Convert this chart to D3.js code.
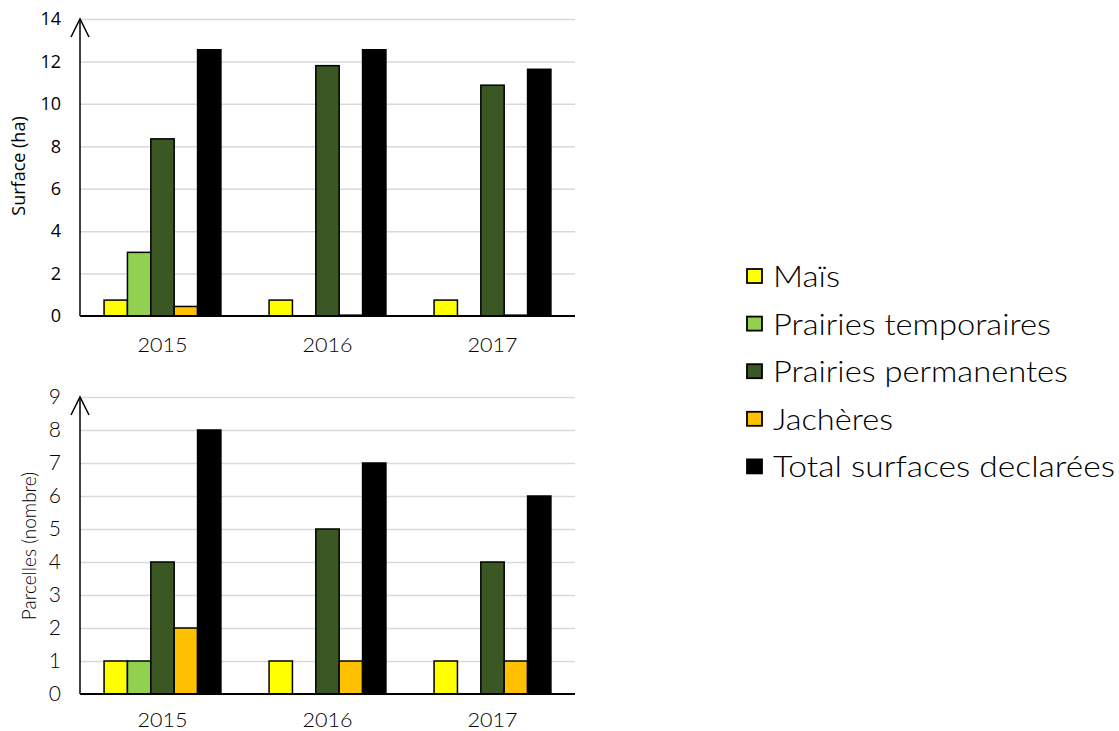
<html>
<head>
<meta charset="utf-8">
</head>
<style>
    body { margin: 0; background: #fff; }
    .grid line { stroke: #d9d9d9; stroke-width: 1.5; }
    .grid path { display: none; }
    .bar { stroke: #000; stroke-width: 1.5; }
</style>
<svg width="1119" height="731"></svg>
<script src="https://cdnjs.cloudflare.com/ajax/libs/d3/7.8.5/d3.min.js"></script>
<script>
    var years = ["2015", "2016", "2017"];
    var series = ["Maïs", "Prairies temporaires", "Prairies permanentes", "Jachères", "Total surfaces declarées"];
    var colors = ["#ffff00", "#92d050", "#3a5724", "#ffc000", "#000000"];

    // surface (ha), one array per series, by year
    var surfMais = [0.75, 0.75, 0.75];
    var surfTemp = [3.0, 0, 0];
    var surfPerm = [8.35, 11.8, 10.88];
    var surfJach = [0.45, 0.04, 0.04];
    var surfTotal = [12.55, 12.55, 11.63];
    var surfTicks = [0, 2, 4, 6, 8, 10, 12, 14];

    // parcelles (nombre)
    var parMais = [1, 1, 1];
    var parTemp = [1, 0, 0];
    var parPerm = [4, 5, 4];
    var parJach = [2, 1, 1];
    var parTotal = [8, 7, 6];
    var parTicks = [0, 1, 2, 3, 4, 5, 6, 7, 8, 9];

    var svg = d3.select("svg");
    var gothic = "Lato, 'DejaVu Sans', sans-serif";
    var calibri = "'Open Sans', sans-serif";

    function drawPanel(opt) {
        var data = [opt.a, opt.b, opt.c, opt.d, opt.e];
        var x0 = d3.scaleBand().domain(years).range([80, 575]);
        var x1 = d3.scaleBand().domain(d3.range(5)).range([0, x0.bandwidth()]).paddingOuter(1.03).paddingInner(0);
        var y = d3.scaleLinear().domain([0, opt.max]).range([opt.bottom, opt.top]);

        // gridlines
        svg.append("g").attr("class", "grid")
            .attr("transform", "translate(80,0)")
            .call(d3.axisRight(y).tickValues(opt.ticks).tickSize(495).tickFormat(""))
            .selectAll("line").filter(d => d === 0).remove();

        // tick labels
        svg.append("g").selectAll("text").data(opt.ticks).enter().append("text")
            .attr("x", 61).attr("y", d => y(d))
            .attr("dy", "0.35em")
            .attr("text-anchor", "end")
            .style("font-family", opt.tickFont).style("font-size", opt.tickSize + "px")
            .style("font-weight", opt.tickWeight)
            .attr("fill", "#000")
            .text(d => d);

        // bars
        years.forEach(function(yr, i) {
            data.forEach(function(arr, s) {
                var v = arr[i];
                if (!v) return;
                svg.append("rect").attr("class", "bar")
                    .attr("x", x0(yr) + x1(s))
                    .attr("y", y(v))
                    .attr("width", x1.bandwidth())
                    .attr("height", y(0) - y(v))
                    .attr("fill", colors[s]);
            });
        });

        // baseline
        svg.append("line").attr("x1", 80).attr("x2", 575)
            .attr("y1", y(0)).attr("y2", y(0))
            .attr("stroke", "#000").attr("stroke-width", 2);

        // y axis with arrow
        var top = y(opt.max);
        svg.append("line").attr("x1", 80).attr("x2", 80)
            .attr("y1", y(0)).attr("y2", top + 1)
            .attr("stroke", "#000").attr("stroke-width", 1.5);
        svg.append("path")
            .attr("d", "M" + 71 + "," + (top + 18) + "L80," + top + "L" + 89 + "," + (top + 18))
            .attr("fill", "none").attr("stroke", "#000").attr("stroke-width", 1.5);

        // x labels
        svg.append("g").selectAll("text").data(years).enter().append("text")
            .attr("x", d => x0(d) + x0.bandwidth() / 2)
            .attr("y", opt.labelY)
            .attr("text-anchor", "middle")
            .style("font-family", gothic).style("font-size", "20px").style("font-weight", 300)
            .attr("fill", "#000")
            .attr("textLength", 50).attr("lengthAdjust", "spacingAndGlyphs")
            .text(d => d);

        // y title
        svg.append("text")
            .attr("transform", "translate(" + opt.titleX + "," + opt.titleY + ") rotate(-90)")
            .attr("text-anchor", "middle")
            .style("font-family", opt.titleFont).style("font-size", opt.titleSize + "px")
            .style("font-weight", opt.tickWeight)
            .text(opt.title);
    }

    drawPanel({
        a: surfMais, b: surfTemp, c: surfPerm, d: surfJach, e: surfTotal,
        max: 14, ticks: surfTicks, top: 19, bottom: 316, labelY: 352,
        tickFont: calibri, tickSize: 18, tickWeight: 400, title: "Surface (ha)", titleX: 25, titleY: 166,
        titleFont: calibri, titleSize: 18
    });

    drawPanel({
        a: parMais, b: parTemp, c: parPerm, d: parJach, e: parTotal,
        max: 9, ticks: parTicks, top: 397, bottom: 694, labelY: 727,
        tickFont: gothic, tickSize: 21, tickWeight: 300, title: "Parcelles (nombre)", titleX: 36, titleY: 546,
        titleFont: gothic, titleSize: 19
    });

    // legend
    var legWidths = [67, 278, 295, 120, 342];
    var leg = svg.append("g").selectAll("g").data(series).enter().append("g")
        .attr("transform", (d, i) => "translate(747," + (276 + i * 47.6) + ")");
    leg.append("rect").attr("x", 0).attr("y", -7).attr("width", 15).attr("height", 14)
        .attr("fill", (d, i) => colors[i]).attr("stroke", "#000").attr("stroke-width", 1.8);
    leg.append("text").attr("x", 26).attr("y", 0).attr("dy", "0.38em")
        .style("font-family", gothic).style("font-size", "29px").style("font-weight", 300)
        .attr("textLength", (d, i) => legWidths[i])
        .attr("lengthAdjust", "spacingAndGlyphs")
        .text(d => d);
</script>
</html>
